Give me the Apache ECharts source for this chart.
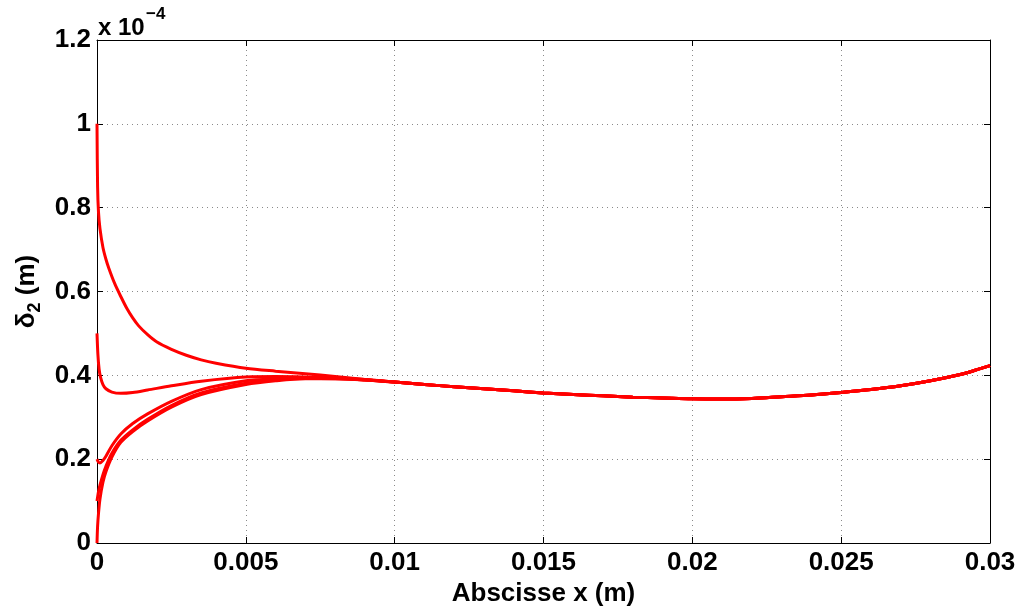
<!DOCTYPE html>
<html>
<head>
<meta charset="utf-8">
<script src="https://cdn.jsdelivr.net/npm/echarts@6/dist/echarts.min.js"></script>
<style>
html,body{margin:0;padding:0;background:#fff;}
#chart{width:1018px;height:606px;}
</style>
</head>
<body>
<div id="chart"></div>
<script>
// values in units of 1e-4 m
var xTickLabels = ['0', '0.005', '0.01', '0.015', '0.02', '0.025', '0.03'];
var yTickLabels = ['0', '0.2', '0.4', '0.6', '0.8', '1', '1.2'];

// shared tail (all curves merged)
var tailX = [0.01, 0.011, 0.012, 0.013, 0.014, 0.015, 0.016, 0.017, 0.018, 0.019, 0.02, 0.021, 0.022, 0.023, 0.024, 0.025, 0.026, 0.027, 0.028, 0.029, 0.0295, 0.03];
var tailY = [0.384, 0.378, 0.373, 0.368, 0.363, 0.358, 0.354, 0.351, 0.348, 0.346, 0.344, 0.3435, 0.345, 0.349, 0.353, 0.359, 0.366, 0.375, 0.387, 0.402, 0.412, 0.423];

// curve starting at 1.0
var c1X = [0, 0.00002, 0.00005, 0.0001, 0.0002, 0.0003, 0.0004, 0.0006, 0.0008, 0.001, 0.0012, 0.0014, 0.0017, 0.002, 0.0025, 0.003, 0.0035, 0.004, 0.005, 0.006, 0.007, 0.008, 0.009];
var c1Y = [1.0, 0.85, 0.79, 0.75, 0.705, 0.677, 0.655, 0.618, 0.588, 0.56, 0.537, 0.518, 0.497, 0.48, 0.462, 0.448, 0.437, 0.429, 0.417, 0.41, 0.404, 0.397, 0.39];

// curve starting at 0.5
var c2X = [0, 0.00003, 0.00007, 0.00012, 0.0002, 0.0003, 0.0005, 0.0008, 0.0012, 0.0017, 0.0025, 0.0035, 0.005, 0.006, 0.007, 0.008, 0.009];
var c2Y = [0.5, 0.45, 0.415, 0.395, 0.378, 0.368, 0.36, 0.357, 0.359, 0.365, 0.375, 0.386, 0.396, 0.397, 0.396, 0.394, 0.39];

// curve starting at 0.2
var c3X = [0, 0.00005, 0.0001, 0.0002, 0.0003, 0.0005, 0.0008, 0.0012, 0.0017, 0.0025, 0.0035, 0.005, 0.006, 0.007, 0.008, 0.009];
var c3Y = [0.2, 0.193, 0.191, 0.197, 0.207, 0.232, 0.26, 0.285, 0.308, 0.338, 0.366, 0.387, 0.392, 0.394, 0.393, 0.389];

// curve starting at 0.1
var c4X = [0, 0.00005, 0.0001, 0.0002, 0.0003, 0.0005, 0.0008, 0.0012, 0.0017, 0.0025, 0.0035, 0.005, 0.006, 0.007, 0.008, 0.009];
var c4Y = [0.1, 0.122, 0.138, 0.163, 0.183, 0.214, 0.245, 0.27, 0.295, 0.328, 0.358, 0.381, 0.389, 0.393, 0.392, 0.389];

// curve starting at 0
var c5X = [0, 0.00002, 0.00005, 0.0001, 0.0002, 0.0003, 0.0005, 0.0008, 0.0012, 0.0017, 0.0025, 0.0035, 0.005, 0.006, 0.007, 0.008, 0.009];
var c5Y = [0, 0.04, 0.07, 0.105, 0.145, 0.17, 0.205, 0.24, 0.266, 0.291, 0.324, 0.354, 0.378, 0.387, 0.392, 0.392, 0.389];

function pairs(xs, ys) {
  var out = [];
  for (var i = 0; i < xs.length; i++) out.push([xs[i], ys[i]]);
  for (var j = 0; j < tailX.length; j++) out.push([tailX[j], tailY[j]]);
  return out;
}

var FONT = 'Liberation Sans, Arial, sans-serif';
var chart = echarts.init(document.getElementById('chart'));
var gridSplit = {show: true, lineStyle: {color: '#8a8a8a', type: [1, 4], width: 1}};
var axisLine = {show: true, onZero: false, lineStyle: {color: '#000', width: 1}};
var tick = {show: true, inside: true, length: 6, lineStyle: {color: '#000'}};
var labelStyle = {color: '#000', fontFamily: FONT, fontWeight: 'bold', fontSize: 26};

function mk(xs, ys) {
  return {
    type: 'line', data: pairs(xs, ys), showSymbol: false, smooth: 0.3,
    lineStyle: {color: '#ff0000', width: 3}, itemStyle: {color: '#ff0000'}, z: 5
  };
}

chart.setOption({
  animation: false,
  backgroundColor: '#fff',
  grid: {left: 97, right: 28, top: 40, bottom: 63, containLabel: false, outerBoundsMode: 'none'},
  xAxis: [{
    type: 'value', min: 0, max: 0.03, interval: 0.005, position: 'bottom',
    axisLine: axisLine, axisTick: tick, splitLine: gridSplit,
    axisLabel: Object.assign({margin: 7, formatter: function (v, i) { return xTickLabels[i]; }}, labelStyle),
    name: 'Abscisse x (m)', nameLocation: 'middle', nameGap: 27,
    nameTextStyle: {color: '#000', fontFamily: FONT, fontWeight: 'bold', fontSize: 26}
  }, {
    type: 'value', min: 0, max: 0.03, interval: 0.005, position: 'top',
    axisLine: axisLine, axisTick: tick, splitLine: {show: false}, axisLabel: {show: false}
  }],
  yAxis: [{
    type: 'value', min: 0, max: 1.2, interval: 0.2, position: 'left',
    axisLine: axisLine, axisTick: tick, splitLine: gridSplit,
    axisLabel: Object.assign({margin: 6, formatter: function (v, i) { return yTickLabels[i]; }}, labelStyle),
    name: '{d|δ}{s|2}{d| (m)}', nameLocation: 'middle', nameGap: 51, nameRotate: 90,
    nameTextStyle: {
      rich: {
        d: {color: '#000', fontFamily: FONT, fontWeight: 'bold', fontSize: 26, lineHeight: 34, verticalAlign: 'middle'},
        s: {color: '#000', fontFamily: FONT, fontWeight: 'bold', fontSize: 18, lineHeight: 34, verticalAlign: 'bottom', padding: [14, 0, 0, 0]}
      }
    }
  }, {
    type: 'value', min: 0, max: 1.2, interval: 0.2, position: 'right',
    axisLine: axisLine, axisTick: tick, splitLine: {show: false}, axisLabel: {show: false}
  }],
  graphic: [{
    type: 'text',
    style: {x: 98, y: 28, text: 'x 10', fill: '#000', font: 'bold 24px Liberation Sans, Arial, sans-serif', verticalAlign: 'middle', align: 'left'}
  }, {
    type: 'text',
    style: {x: 146, y: 14, text: '−4', fill: '#000', font: 'bold 17px Liberation Sans, Arial, sans-serif', verticalAlign: 'middle', align: 'left'}
  }],
  series: [mk(c1X, c1Y), mk(c2X, c2Y), mk(c3X, c3Y), mk(c4X, c4Y), mk(c5X, c5Y)]
});
</script>
</body>
</html>
